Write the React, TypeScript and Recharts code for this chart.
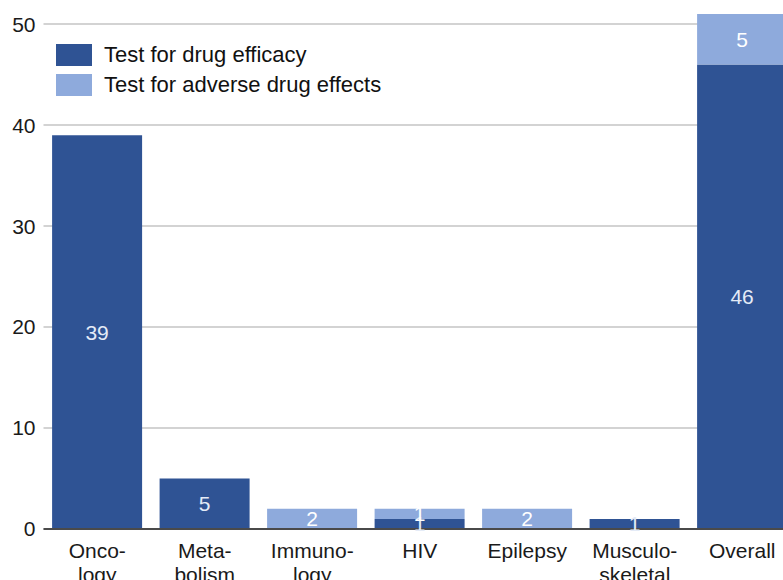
import React from "react";
import { BarChart, Bar, XAxis, YAxis, CartesianGrid, LabelList } from "recharts";

const categories = ["Onco-\nlogy", "Meta-\nbolism", "Immuno-\nlogy", "HIV", "Epilepsy", "Musculo-\nskeletal", "Overall"];
const efficacy = [39, 5, 0, 1, 0, 1, 46];
const adverse = [0, 0, 2, 1, 2, 0, 5];
const yTicks = [0, 10, 20, 30, 40, 50];
const seriesNames = ["Test for drug efficacy", "Test for adverse drug effects"];

const DARK = "#2f5394";
const LIGHT = "#8eaadc";
const FONT = "'Liberation Sans', Arial, sans-serif";

const data = categories.map((c, i) => ({
  name: c,
  efficacy: efficacy[i] || null,
  adverse: adverse[i] || null,
}));

const XTick = (props: any) => {
  const { x, y, payload } = props;
  const lines = String(payload.value).split("\n");
  return (
    <text x={x} y={y} textAnchor="middle" fill="#1a1a1a" fontSize={21} fontFamily={FONT}>
      {lines.map((l, i) => (
        <tspan key={i} x={x} dy={i === 0 ? 29 : 24}>
          {l}
        </tspan>
      ))}
    </text>
  );
};

const LegendBox = () => {
  const colors = [DARK, LIGHT];
  return (
    <div style={{ position: "absolute", left: 56, top: 44, fontFamily: FONT, fontSize: 22, color: "#111" }}>
      {seriesNames.map((label, i) => (
        <div key={i} style={{ display: "flex", alignItems: "center", height: 22, marginBottom: 8 }}>
          <div style={{ width: 36, height: 22, background: colors[i], marginRight: 12 }} />
          <span style={{ lineHeight: "22px", whiteSpace: "nowrap" }}>{label}</span>
        </div>
      ))}
    </div>
  );
};

export default function App() {
  return (
    <div style={{ position: "fixed", left: 0, top: 0, width: 783, height: 580, overflow: "hidden", background: "#fff" }}>
      <BarChart
        width={800}
        height={600}
        data={data}
        margin={{ top: 14, right: 4, left: 0, bottom: 0 }}
        barCategoryGap="8%"
      >
        <CartesianGrid vertical={false} syncWithTicks stroke="#c4c4c4" strokeWidth={1.5} />
        <XAxis
          dataKey="name"
          interval={0}
          height={71}
          tickLine={false}
          tickSize={0}
          tickMargin={0}
          axisLine={{ stroke: "#4a4a4a", strokeWidth: 2 }}
          tick={<XTick />}
        />
        <YAxis
          width={43.5}
          domain={[0, 51]}
          ticks={yTicks}
          interval={0}
          axisLine={false}
          tickLine={false}
          tickSize={0}
          tickMargin={8}
          tick={{ fill: "#1a1a1a", fontSize: 21, fontFamily: FONT }}
        />
        <Bar dataKey="efficacy" name={seriesNames[0]} stackId="a" fill={DARK} isAnimationActive={false}>
          <LabelList dataKey="efficacy" position="center" fill="#e4ebf7" fontSize={21} fontFamily={FONT} />
        </Bar>
        <Bar dataKey="adverse" name={seriesNames[1]} stackId="a" fill={LIGHT} isAnimationActive={false}>
          <LabelList dataKey="adverse" position="center" fill="#ffffff" fontSize={21} fontFamily={FONT} />
        </Bar>
      </BarChart>
      <LegendBox />
    </div>
  );
}
